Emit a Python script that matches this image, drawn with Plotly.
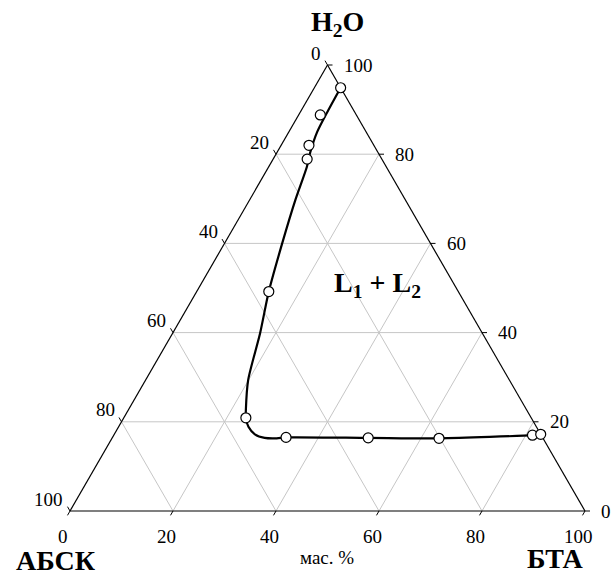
import math
import plotly.graph_objects as go

# Experimental compositions of the two-phase region, mass %
h2o = [94.9, 88.8, 82.0, 78.9, 49.2, 20.9, 16.5, 16.4, 16.3, 17.0, 17.2]
bta = [5.1, 4.2, 5.4, 6.6, 14.0, 23.7, 33.7, 49.7, 63.5, 81.3, 82.8]
absk = [0.0, 7.0, 12.6, 14.5, 36.8, 55.4, 49.8, 33.9, 20.2, 1.7, 0.0]

# Binodal curve, mass %
curve_h2o = [94.9, 85.0, 80.2, 77.2, 69.7, 60.0, 49.2, 39.8, 29.4, 22.7, 20.9,
             18.9, 17.2, 16.4, 16.3, 16.5, 16.4, 16.3, 17.0, 17.2]
curve_bta = [5.1, 5.5, 6.5, 7.4, 8.9, 11.2, 14.0, 17.0, 19.9, 22.8, 23.7,
             25.2, 27.3, 29.6, 32.0, 33.7, 49.7, 63.5, 81.3, 82.8]

tick_values = [0, 20, 40, 60, 80, 100]
grid_values = [20, 40, 60, 80]

S3 = math.sqrt(3) / 2
PX = 5.15          # pixels per composition unit
X0, Y0 = 70, 511   # pixel position of the АБСК corner
W, H = 615, 574

FONT = "'Times New Roman', 'Liberation Serif', 'DejaVu Serif', serif"


def to_xy(h, b):
    """Ternary (H2O, БТА) -> cartesian plane of the triangle."""
    return b + h / 2, h * S3


def seg_trace(segments, color, width):
    xs, ys = [], []
    for (h1, b1), (h2, b2) in segments:
        x1, y1 = to_xy(h1, b1)
        x2, y2 = to_xy(h2, b2)
        xs += [x1, x2, None]
        ys += [y1, y2, None]
    return go.Scatter(x=xs, y=ys, mode="lines", hoverinfo="skip",
                      line=dict(color=color, width=width), showlegend=False)


fig = go.Figure()

# grid: constant H2O (horizontal), constant БТА, constant АБСК
grid = []
for k in grid_values:
    grid.append(((k, 0), (k, 100 - k)))
    grid.append(((0, k), (100 - k, k)))
    grid.append(((0, 100 - k), (100 - k, 0)))
fig.add_trace(seg_trace(grid, "#c6c6c6", 1))

# triangle frame
frame = [((100, 0), (0, 0)), ((0, 0), (0, 100)), ((0, 100), (100, 0))]
fig.add_trace(seg_trace(frame, "black", 1.2))

# small outward ticks
tl = 5 / PX
tx, ty = [], []
for k in tick_values:
    # H2O ticks on right edge, horizontal
    x, y = to_xy(k, 100 - k)
    tx += [x, x + tl, None]; ty += [y, y, None]
    # АБСК ticks on left edge, parallel to right edge
    x, y = to_xy(100 - k, 0)
    tx += [x, x - tl * 0.5, None]; ty += [y, y + tl * S3, None]
    # БТА ticks on bottom edge, parallel to left edge
    x, y = to_xy(0, k)
    tx += [x, x - tl * 0.5, None]; ty += [y, y - tl * S3, None]
fig.add_trace(go.Scatter(x=tx, y=ty, mode="lines", hoverinfo="skip",
                         line=dict(color="black", width=1), showlegend=False))

# binodal curve
cx, cy = zip(*[to_xy(h, b) for h, b in zip(curve_h2o, curve_bta)])
fig.add_trace(go.Scatter(x=cx, y=cy, mode="lines",
                         line=dict(color="black", width=2.2, shape="spline",
                                   smoothing=0.7),
                         showlegend=False, hoverinfo="skip"))

# experimental points
px_, py_ = zip(*[to_xy(h, b) for h, b in zip(h2o, bta)])
fig.add_trace(go.Scatter(x=px_, y=py_, mode="markers",
                         marker=dict(symbol="circle", size=10, color="white",
                                     line=dict(color="black", width=1.2)),
                         customdata=list(zip(h2o, bta, absk)),
                         hovertemplate="H2O %{customdata[0]}<br>БТА %{customdata[1]}"
                                       "<br>АБСК %{customdata[2]}<extra></extra>",
                         showlegend=False))

ann = []
tick_font = dict(family=FONT, size=19, color="black")
for k in tick_values:
    x, y = to_xy(k, 100 - k)
    ann.append(dict(x=x, y=y, text=str(k), xanchor="left", yanchor="middle",
                    xshift=14, yshift=0, font=tick_font))
    x, y = to_xy(100 - k, 0)
    ann.append(dict(x=x, y=y, text=str(k), xanchor="right", yanchor="middle",
                    xshift=-5, yshift=12, font=tick_font))
    x, y = to_xy(0, k)
    ann.append(dict(x=x, y=y, text=str(k), xanchor="center", yanchor="middle",
                    xshift=-7, yshift=-25, font=tick_font))

title_font = dict(family=FONT, size=28, color="black")
ax, ay = to_xy(100, 0)
ann.append(dict(x=ax, y=ay, text="<b>H<sub>2</sub>O</b>", xanchor="center",
                yanchor="middle", xshift=10, yshift=42, font=title_font))
lx, ly = to_xy(0, 0)
ann.append(dict(x=lx, y=ly, text="<b>АБСК</b>", xanchor="center",
                yanchor="middle", xshift=-14, yshift=-49, font=title_font))
rx, ry = to_xy(0, 100)
ann.append(dict(x=rx, y=ry, text="<b>БТА</b>", xanchor="center",
                yanchor="middle", xshift=-30, yshift=-47, font=title_font))
mx, my = to_xy(0, 50)
ann.append(dict(x=mx, y=my, text="мас. %", xanchor="center", yanchor="middle",
                xshift=-1, yshift=-46, font=dict(family=FONT, size=19, color="black")))
fx, fy = to_xy(50.7, 34.4)
ann.append(dict(x=fx, y=fy, text="<b>L<sub>1</sub> + L<sub>2</sub></b>",
                xanchor="center", yanchor="middle", font=title_font))

for a in ann:
    a.update(xref="x", yref="y", showarrow=False)

fig.update_layout(
    width=W, height=H, autosize=False,
    margin=dict(l=0, r=0, t=0, b=0),
    paper_bgcolor="white", plot_bgcolor="white",
    font=dict(family=FONT),
    xaxis=dict(visible=False, range=[-X0 / PX, (W - X0) / PX], fixedrange=True),
    yaxis=dict(visible=False, range=[(Y0 - H) / PX, Y0 / PX], fixedrange=True),
    annotations=ann,
)

fig.write_html("out.html")
